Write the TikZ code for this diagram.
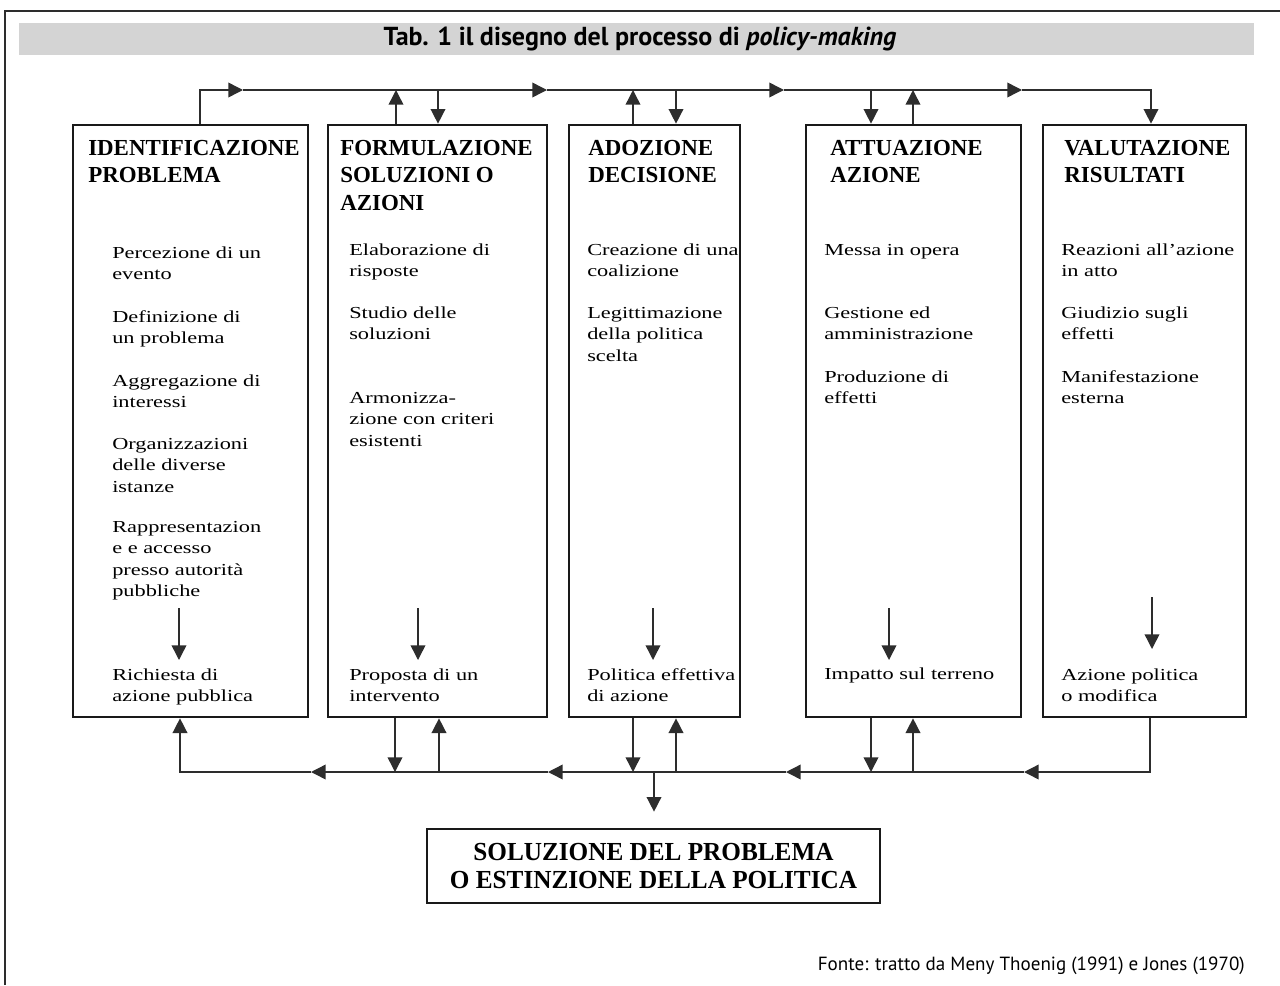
\documentclass[tikz,border=0pt]{standalone}
\usepackage{fontspec}
\setmainfont{Liberation Serif}
\newfontfamily\bodyfont[FakeStretch=1.33]{Liberation Serif}
\newfontfamily\headfont{Liberation Serif}
\newfontfamily\solfont[FakeStretch=0.97]{Liberation Serif}
\newfontfamily\titlefont{PT Sans}
\usetikzlibrary{arrows.meta,calc}
\definecolor{bargray}{RGB}{212,212,212}
\definecolor{linegray}{RGB}{45,45,45}
\def\pxs{0.75pt}
\begin{document}
\begin{tikzpicture}[x=0.75pt,y=-0.75pt,
  stagebox/.style={draw=black!90, line width=2pt, inner sep=0pt, minimum height=592*\pxs},
  conn/.style={draw=linegray, line width=1.1pt},
  tip/.style={-{Triangle[length=11pt,width=11pt]}},
  bodytxt/.style={anchor=base west, align=left, inner sep=0pt, font=\bodyfont\fontsize{12.6}{16.125}\selectfont},
  headtxt/.style={anchor=base west, align=left, inner sep=0pt, font=\headfont\bfseries\fontsize{17.2}{20.6}\selectfont},
]
\useasboundingbox (0,0) rectangle (1280,985);
% frame
\draw[linegray, line width=1.1pt] (5,985) -- (5,11) -- (1280,11);
% title bar
\fill[bargray] (19,23) rectangle (1254,55);
\node[font=\titlefont\bfseries\fontsize{19.5}{22}\selectfont, inner sep=0pt] (title) at (640,39) {Tab. 1 il disegno del processo di \textit{policy-making}};

% boxes
\node[stagebox, minimum width=235*\pxs] (b1) at (190.5,421) {};
\node[stagebox, minimum width=219*\pxs] (b2) at (437.5,421) {};
\node[stagebox, minimum width=171*\pxs] (b3) at (654.5,421) {};
\node[stagebox, minimum width=215*\pxs] (b4) at (913.5,421) {};
\node[stagebox, minimum width=203*\pxs] (b5) at (1144.5,421) {};

% headers (anchor = baseline of last line)
\node[headtxt] (h1) at (88,182.5) {IDENTIFICAZIONE\\PROBLEMA};
\node[headtxt] (h2) at (340,210) {FORMULAZIONE\\SOLUZIONI O\\AZIONI};
\node[headtxt] (h3) at (588,182.5) {ADOZIONE\\DECISIONE};
\node[headtxt] (h4) at (830,182.5) {ATTUAZIONE\\AZIONE};
\node[headtxt] (h5) at (1064,182.5) {VALUTAZIONE\\RISULTATI};

% box 1 texts
\node[bodytxt] (p11) at (112,279.5) {Percezione di un\\evento};
\node[bodytxt] (p12) at (112,343.5) {Definizione di\\un problema};
\node[bodytxt] (p13) at (112,407.5) {Aggregazione di\\interessi};
\node[bodytxt] (p14) at (112,492) {Organizzazioni\\delle diverse\\istanze};
\node[bodytxt] (p15) at (112,596.5) {Rappresentazion\\e e accesso\\presso autorità\\pubbliche};
\node[bodytxt] (p16) at (112,701.5) {Richiesta di\\azione pubblica};
% box 2 texts
\node[bodytxt] (p21) at (349,276.5) {Elaborazione di\\risposte};
\node[bodytxt] (p22) at (349,339.5) {Studio delle\\soluzioni};
\node[bodytxt] (p23) at (349,446) {Armonizza-\\zione con criteri\\esistenti};
\node[bodytxt] (p24) at (349,701.5) {Proposta di un\\intervento};
% box 3 texts
\node[bodytxt] (p31) at (587,276.5) {Creazione di una\\coalizione};
\node[bodytxt] (p32) at (587,361) {Legittimazione\\della politica\\scelta};
\node[bodytxt] (p33) at (587,701.5) {Politica effettiva\\di azione};
% box 4 texts
\node[bodytxt] (p41) at (824,255) {Messa in opera};
\node[bodytxt] (p42) at (824,339.5) {Gestione ed\\amministrazione};
\node[bodytxt] (p43) at (824,403.5) {Produzione di\\effetti};
\node[bodytxt] (p44) at (824,679) {Impatto sul terreno};
% box 5 texts
\node[bodytxt] (p51) at (1061,276.5) {Reazioni all’azione\\in atto};
\node[bodytxt] (p52) at (1061,339.5) {Giudizio sugli\\effetti};
\node[bodytxt] (p53) at (1061,403.5) {Manifestazione\\esterna};
\node[bodytxt] (p54) at (1061,701.5) {Azione politica\\o modifica};

% inner arrows
\coordinate (i1s) at (179,608); \coordinate (i1e) at (179,660);
\coordinate (i2s) at (418,608); \coordinate (i2e) at (418,660);
\coordinate (i3s) at (653,608); \coordinate (i3e) at (653,660);
\coordinate (i4s) at (889,608); \coordinate (i4e) at (889,660);
\coordinate (i5s) at (1152,597); \coordinate (i5e) at (1152,649);
\foreach \k in {1,...,5} {\draw[conn,tip] (i\k s) -- (i\k e);}

% result box
\node[draw=black!90, line width=2pt, minimum width=453*\pxs, minimum height=74*\pxs, align=center, inner sep=0pt,
      font=\solfont\bfseries\fontsize{19.5}{21}\selectfont] (res) at (653.5,866) {SOLUZIONE DEL PROBLEMA\\O ESTINZIONE DELLA POLITICA};

% top line
\coordinate (T0) at (200,90);
\coordinate (A1) at (243,90);
\coordinate (A2) at (547,90);
\coordinate (A3) at (784,90);
\coordinate (A4) at (1022,90);
\coordinate (T5) at (1151,90);
\coordinate (J2u) at (396,90); \coordinate (J2d) at (438,90);
\coordinate (J3u) at (633,90); \coordinate (J3d) at (676,90);
\coordinate (J4d) at (871,90); \coordinate (J4u) at (913,90);
\draw[conn,tip] (b1.north -| T0) -- (T0) -- (A1);
\draw[conn,tip] (A1) -- (A2);
\draw[conn,tip] (A2) -- (A3);
\draw[conn,tip] (A3) -- (A4);
\draw[conn,tip] (A4) -- (T5) -- (b5.north -| T5);
\draw[conn,tip] (b2.north -| J2u) -- (J2u);
\draw[conn,tip] (J2d) -- (b2.north -| J2d);
\draw[conn,tip] (b3.north -| J3u) -- (J3u);
\draw[conn,tip] (J3d) -- (b3.north -| J3d);
\draw[conn,tip] (J4d) -- (b4.north -| J4d);
\draw[conn,tip] (b4.north -| J4u) -- (J4u);

% bottom line
\coordinate (B5) at (1150,772);
\coordinate (L4) at (1024,772);
\coordinate (L3) at (786,772);
\coordinate (L2) at (548,772);
\coordinate (L1) at (311,772);
\coordinate (B1) at (180,772);
\coordinate (K2d) at (395,772); \coordinate (K2u) at (439,772);
\coordinate (K3d) at (633,772); \coordinate (K3u) at (676,772);
\coordinate (K4d) at (871,772); \coordinate (K4u) at (913,772);
\coordinate (C) at (654,772);
\draw[conn,tip] (b5.south -| B5) -- (B5) -- (L4);
\draw[conn,tip] (L4) -- (L3);
\draw[conn,tip] (L3) -- (L2);
\draw[conn,tip] (L2) -- (L1);
\draw[conn,tip] (L1) -- (B1) -- (b1.south -| B1);
\draw[conn,tip] (b2.south -| K2d) -- (K2d);
\draw[conn,tip] (K2u) -- (b2.south -| K2u);
\draw[conn,tip] (b3.south -| K3d) -- (K3d);
\draw[conn,tip] (K3u) -- (b3.south -| K3u);
\draw[conn,tip] (b4.south -| K4d) -- (K4d);
\draw[conn,tip] (K4u) -- (b4.south -| K4u);
\draw[conn,tip, shorten >=12pt] (C) -- (res.north -| C);

% footer
\node[anchor=base east, inner sep=0pt, font=\titlefont\fontsize{14.3}{16}\selectfont] (src) at (1245,970) {Fonte: tratto da Meny Thoenig (1991) e Jones (1970)};
\end{tikzpicture}
\end{document}
